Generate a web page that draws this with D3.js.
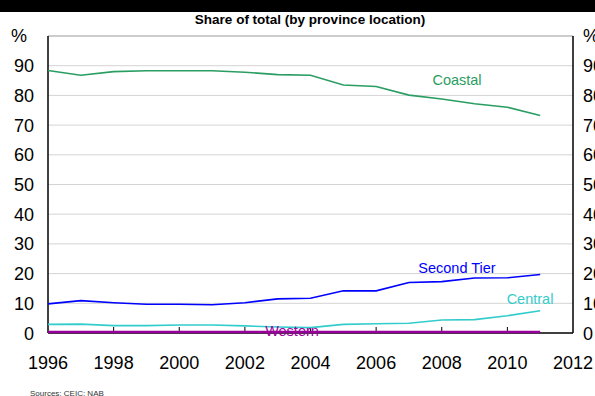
<!DOCTYPE html>
<html><head><meta charset="utf-8">
<script src="https://cdn.jsdelivr.net/npm/d3@7"></script>
<style>body{margin:0;background:#fff}svg{display:block;font-family:Arial,"Liberation Sans",sans-serif}</style>
</head><body><svg id="c" width="595" height="396"></svg>
<script>
const years = [1996,1997,1998,1999,2000,2001,2002,2003,2004,2005,2006,2007,2008,2009,2010,2011];
const coastal = [88.4,86.8,88.0,88.3,88.3,88.3,87.8,87.0,86.8,83.5,83.0,80.1,78.8,77.2,76.0,73.2];
const secondTier = [9.8,10.9,10.2,9.7,9.7,9.5,10.2,11.5,11.7,14.2,14.2,17.0,17.3,18.5,18.6,19.7];
const central = [2.9,3.0,2.5,2.5,2.7,2.7,2.4,2.0,1.8,2.9,3.1,3.3,4.4,4.5,5.8,7.5];
const western = [0.3,0.3,0.3,0.3,0.3,0.3,0.3,0.3,0.3,0.3,0.3,0.3,0.3,0.3,0.3,0.3];
const xTicks = [1996,1998,2000,2002,2004,2006,2008,2010,2012];
const yTicks = [0,10,20,30,40,50,60,70,80,90];
const seriesNames = ["Coastal","Second Tier","Central","Western"];
const seriesColors = ["#2a9d62","#0000ff","#33cccc","#990099"];

const svg = d3.select("#c");
const L=48,R=573,T=36,B=333;
const x = d3.scaleLinear().domain([1996,2012]).range([L,R]);
const y = d3.scaleLinear().domain([0,100]).range([B,T]);

svg.append("rect").attr("x",0).attr("y",0).attr("width",595).attr("height",12).attr("fill","#000");
svg.append("text").attr("x",310).attr("y",24).attr("text-anchor","middle").attr("font-weight","bold").attr("font-size",13.5).text("Share of total (by province location)");

// gridlines
svg.append("g").selectAll("line").data(yTicks.filter(d=>d>0)).join("line")
  .attr("x1",L).attr("x2",R).attr("y1",d=>y(d)).attr("y2",d=>y(d)).attr("stroke","#d4d4d4").attr("stroke-width",1);
svg.append("line").attr("x1",L).attr("x2",R).attr("y1",T).attr("y2",T).attr("stroke","#999").attr("stroke-width",1);

// x ticks inside
svg.append("g").selectAll("line").data(xTicks.slice(1,-1)).join("line")
  .attr("x1",d=>x(d)).attr("x2",d=>x(d)).attr("y1",B).attr("y2",B-6).attr("stroke","#000").attr("stroke-width",1);

// axes lines
svg.append("line").attr("x1",L).attr("x2",L).attr("y1",T).attr("y2",B).attr("stroke","#000").attr("stroke-width",1.5);
svg.append("line").attr("x1",R).attr("x2",R).attr("y1",T).attr("y2",B).attr("stroke","#000").attr("stroke-width",1.5);
svg.append("line").attr("x1",L).attr("x2",R).attr("y1",B).attr("y2",B).attr("stroke","#000").attr("stroke-width",1.5);

// y labels
const fs=18;
svg.append("g").selectAll("text").data(yTicks).join("text")
  .attr("x",34).attr("y",d=>y(d)+6.5).attr("text-anchor","end").attr("font-size",fs).text(d=>d);
svg.append("g").selectAll("text").data(yTicks).join("text")
  .attr("x",583).attr("y",d=>y(d)+6.5).attr("text-anchor","start").attr("font-size",fs).text(d=>d);
svg.append("text").attr("x",11).attr("y",42).attr("font-size",fs).text("%");
svg.append("text").attr("x",583).attr("y",42).attr("font-size",fs).text("%");

// x labels
svg.append("g").selectAll("text").data(xTicks).join("text")
  .attr("x",d=>x(d)).attr("y",369).attr("text-anchor","middle").attr("font-size",fs).text(d=>d);

svg.append("text").attr("x",30).attr("y",396).attr("font-size",8).attr("fill","#333").text("Sources: CEIC; NAB");

// lines
const data=[coastal,secondTier,central,western];
const line=d3.line().x((d,i)=>x(years[i])).y(d=>y(d));
data.forEach((s,k)=>{
  svg.append("path").attr("d",line(s)).attr("fill","none").attr("stroke",seriesColors[k]).attr("stroke-width",k===3?2.5:1.6);
});

// labels
const labPos=[[457,85],[457,273],[530,304],[292,336]];
seriesNames.forEach((n,k)=>{
  svg.append("text").attr("x",labPos[k][0]).attr("y",labPos[k][1]).attr("text-anchor","middle").attr("font-size",14.5).attr("fill",seriesColors[k]).text(n);
});
</script></body></html>
